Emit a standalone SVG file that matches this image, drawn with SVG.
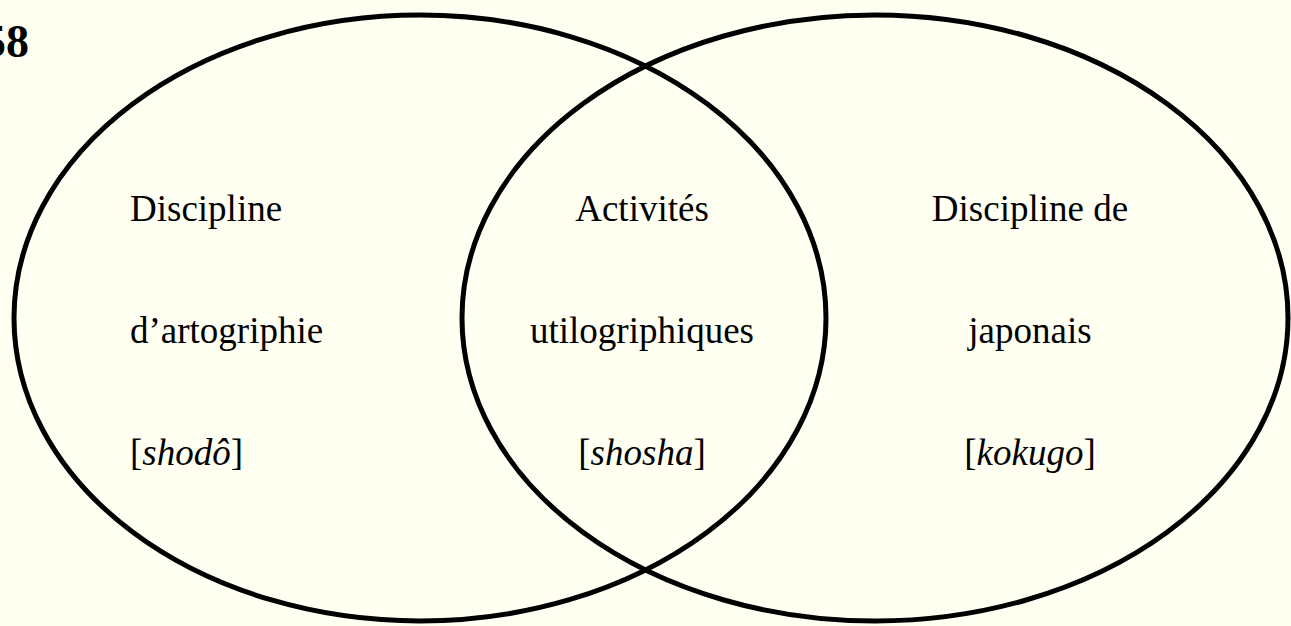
<svg xmlns="http://www.w3.org/2000/svg" width="1291" height="626" viewBox="0 0 1291 626">
<style>
.ell{fill:none;stroke:#000;stroke-width:5}
.t{font-family:"Liberation Serif","Times New Roman",serif;font-size:37px;fill:#000}
.i{font-style:italic}
.b{font-family:"Liberation Serif","Times New Roman",serif;font-size:46px;font-weight:bold;fill:#000}
</style>
<rect x="0" y="0" width="1291" height="626" fill="#FFFFF2"/>
<text class="b" x="29" y="57" text-anchor="end">58</text>
<g id="left">
<ellipse class="ell" cx="420" cy="318" rx="406" ry="303"/>
<text class="t" x="130" y="221">Discipline</text>
<text class="t" x="130" y="343">d’artogriphie</text>
<text class="t" x="130" y="465">[<tspan class="i">shodô</tspan>]</text>
</g>
<g id="right">
<ellipse class="ell" cx="875" cy="318" rx="413" ry="303"/>
<text class="t" x="1030" y="221" text-anchor="middle">Discipline de</text>
<text class="t" x="1030" y="343" text-anchor="middle">japonais</text>
<text class="t" x="1030" y="465" text-anchor="middle">[<tspan class="i">kokugo</tspan>]</text>
</g>
<g id="middle">
<text class="t" x="642" y="221" text-anchor="middle">Activités</text>
<text class="t" x="642" y="343" text-anchor="middle">utilogriphiques</text>
<text class="t" x="642" y="465" text-anchor="middle">[<tspan class="i">shosha</tspan>]</text>
</g>
<g id="connectors"></g>
</svg>
